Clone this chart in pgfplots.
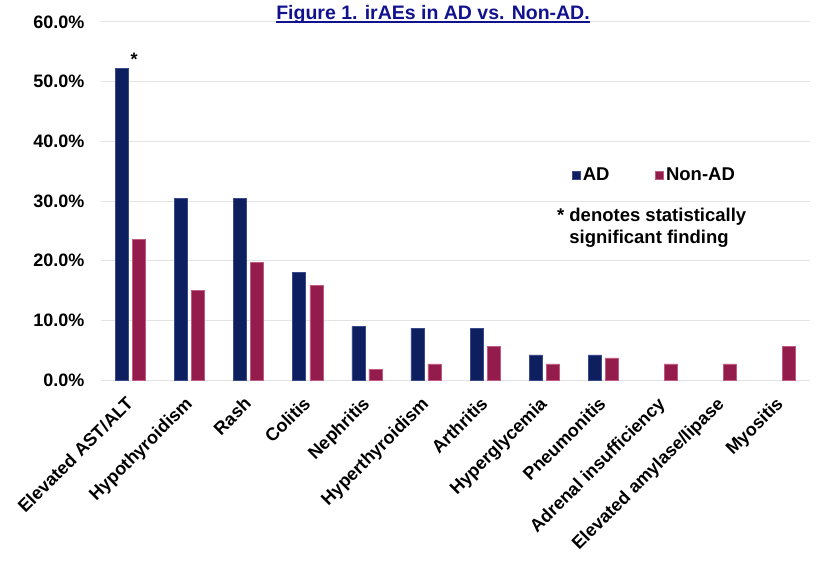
\documentclass[border=0pt]{standalone}
\usepackage{pgfplots}
\pgfplotsset{compat=1.18}
\usepackage{fontspec}
\setmainfont{Liberation Sans}
\definecolor{adcol}{HTML}{0D1F5E}
\definecolor{adedge}{HTML}{3A4A8A}
\definecolor{nacol}{HTML}{931C4D}
\definecolor{naedge}{HTML}{C05A80}
\definecolor{titlecol}{HTML}{12128F}
\begin{document}
\begin{tikzpicture}
\useasboundingbox (0,0) rectangle (818pt,560pt);
\begin{axis}[
  at={(101pt,180pt)}, anchor=south west,
  scale only axis, width=709pt, height=358pt,
  xmin=-0.5, xmax=11.5, ymin=0, ymax=60,
  ytick={0,10,...,60},
  xtick={0,...,11},
  xticklabels={Elevated AST/ALT,Hypothyroidism,Rash,Colitis,Nephritis,Hyperthyroidism,Arthritis,Hyperglycemia,Pneumonitis,Adrenal insufficiency,Elevated amylase/lipase,Myositis},
  /pgf/number format/assume math mode=true,
  yticklabel={\pgfmathprintnumber[fixed,fixed zerofill,precision=1]{\tick}\%},
  yticklabel style={font=\fontsize{18}{21}\selectfont\bfseries, xshift=-13pt},
  xticklabel style={font=\fontsize{18}{21}\selectfont\bfseries, rotate=45, anchor=north east, inner sep=1pt, xshift=-14pt, yshift=-6pt},
  major tick length=0pt,
  axis line style={draw=none},
  ymajorgrids, grid style={draw=black!11, line width=1pt},
  legend style={at={(0.660,0.573)}, anchor=west, draw=none, fill=none,
    font=\fontsize{18.5}{21}\selectfont\bfseries, legend columns=2,
    /tikz/every even column/.append style={column sep=44pt}},
  legend image code/.code={\fill[#1] (0pt,-4pt) rectangle (8pt,4pt);},
]
\addplot[ybar, bar width=0.22, bar shift=-0.144, fill=adcol, draw=adedge, line width=0.6pt] coordinates {
(0,52.2) (1,30.4) (2,30.4) (3,18.0) (4,9.0) (5,8.6) (6,8.6) (7,4.2) (8,4.2)};
\addlegendentry{AD}
\addplot[ybar, bar width=0.22, bar shift=0.144, fill=nacol, draw=naedge, line width=0.6pt] coordinates {
(0,23.6) (1,15.0) (2,19.7) (3,15.9) (4,1.8) (5,2.7) (6,5.6) (7,2.7) (8,3.7) (9,2.7) (10,2.7) (11,5.6)};
\addlegendentry{Non-AD}
\node[anchor=base, font=\fontsize{18}{21}\selectfont\bfseries] at (axis cs:0.06,52.7) {*};
\node[anchor=north west, align=left, inner sep=0pt, font=\fontsize{18.5}{22}\selectfont\bfseries] at (rel axis cs:0.643,0.48) {* denotes statistically\\\hphantom{* }significant finding};
\end{axis}
\node[anchor=base, font=\fontsize{19.5}{23}\selectfont\bfseries, text=titlecol, inner sep=0pt] at (433pt,540pt) {\setbox0\hbox{Figure 1. irAEs in AD vs. Non-AD.}\rlap{\rule[-2.6pt]{\wd0}{1.4pt}}\box0};
\end{tikzpicture}
\end{document}
